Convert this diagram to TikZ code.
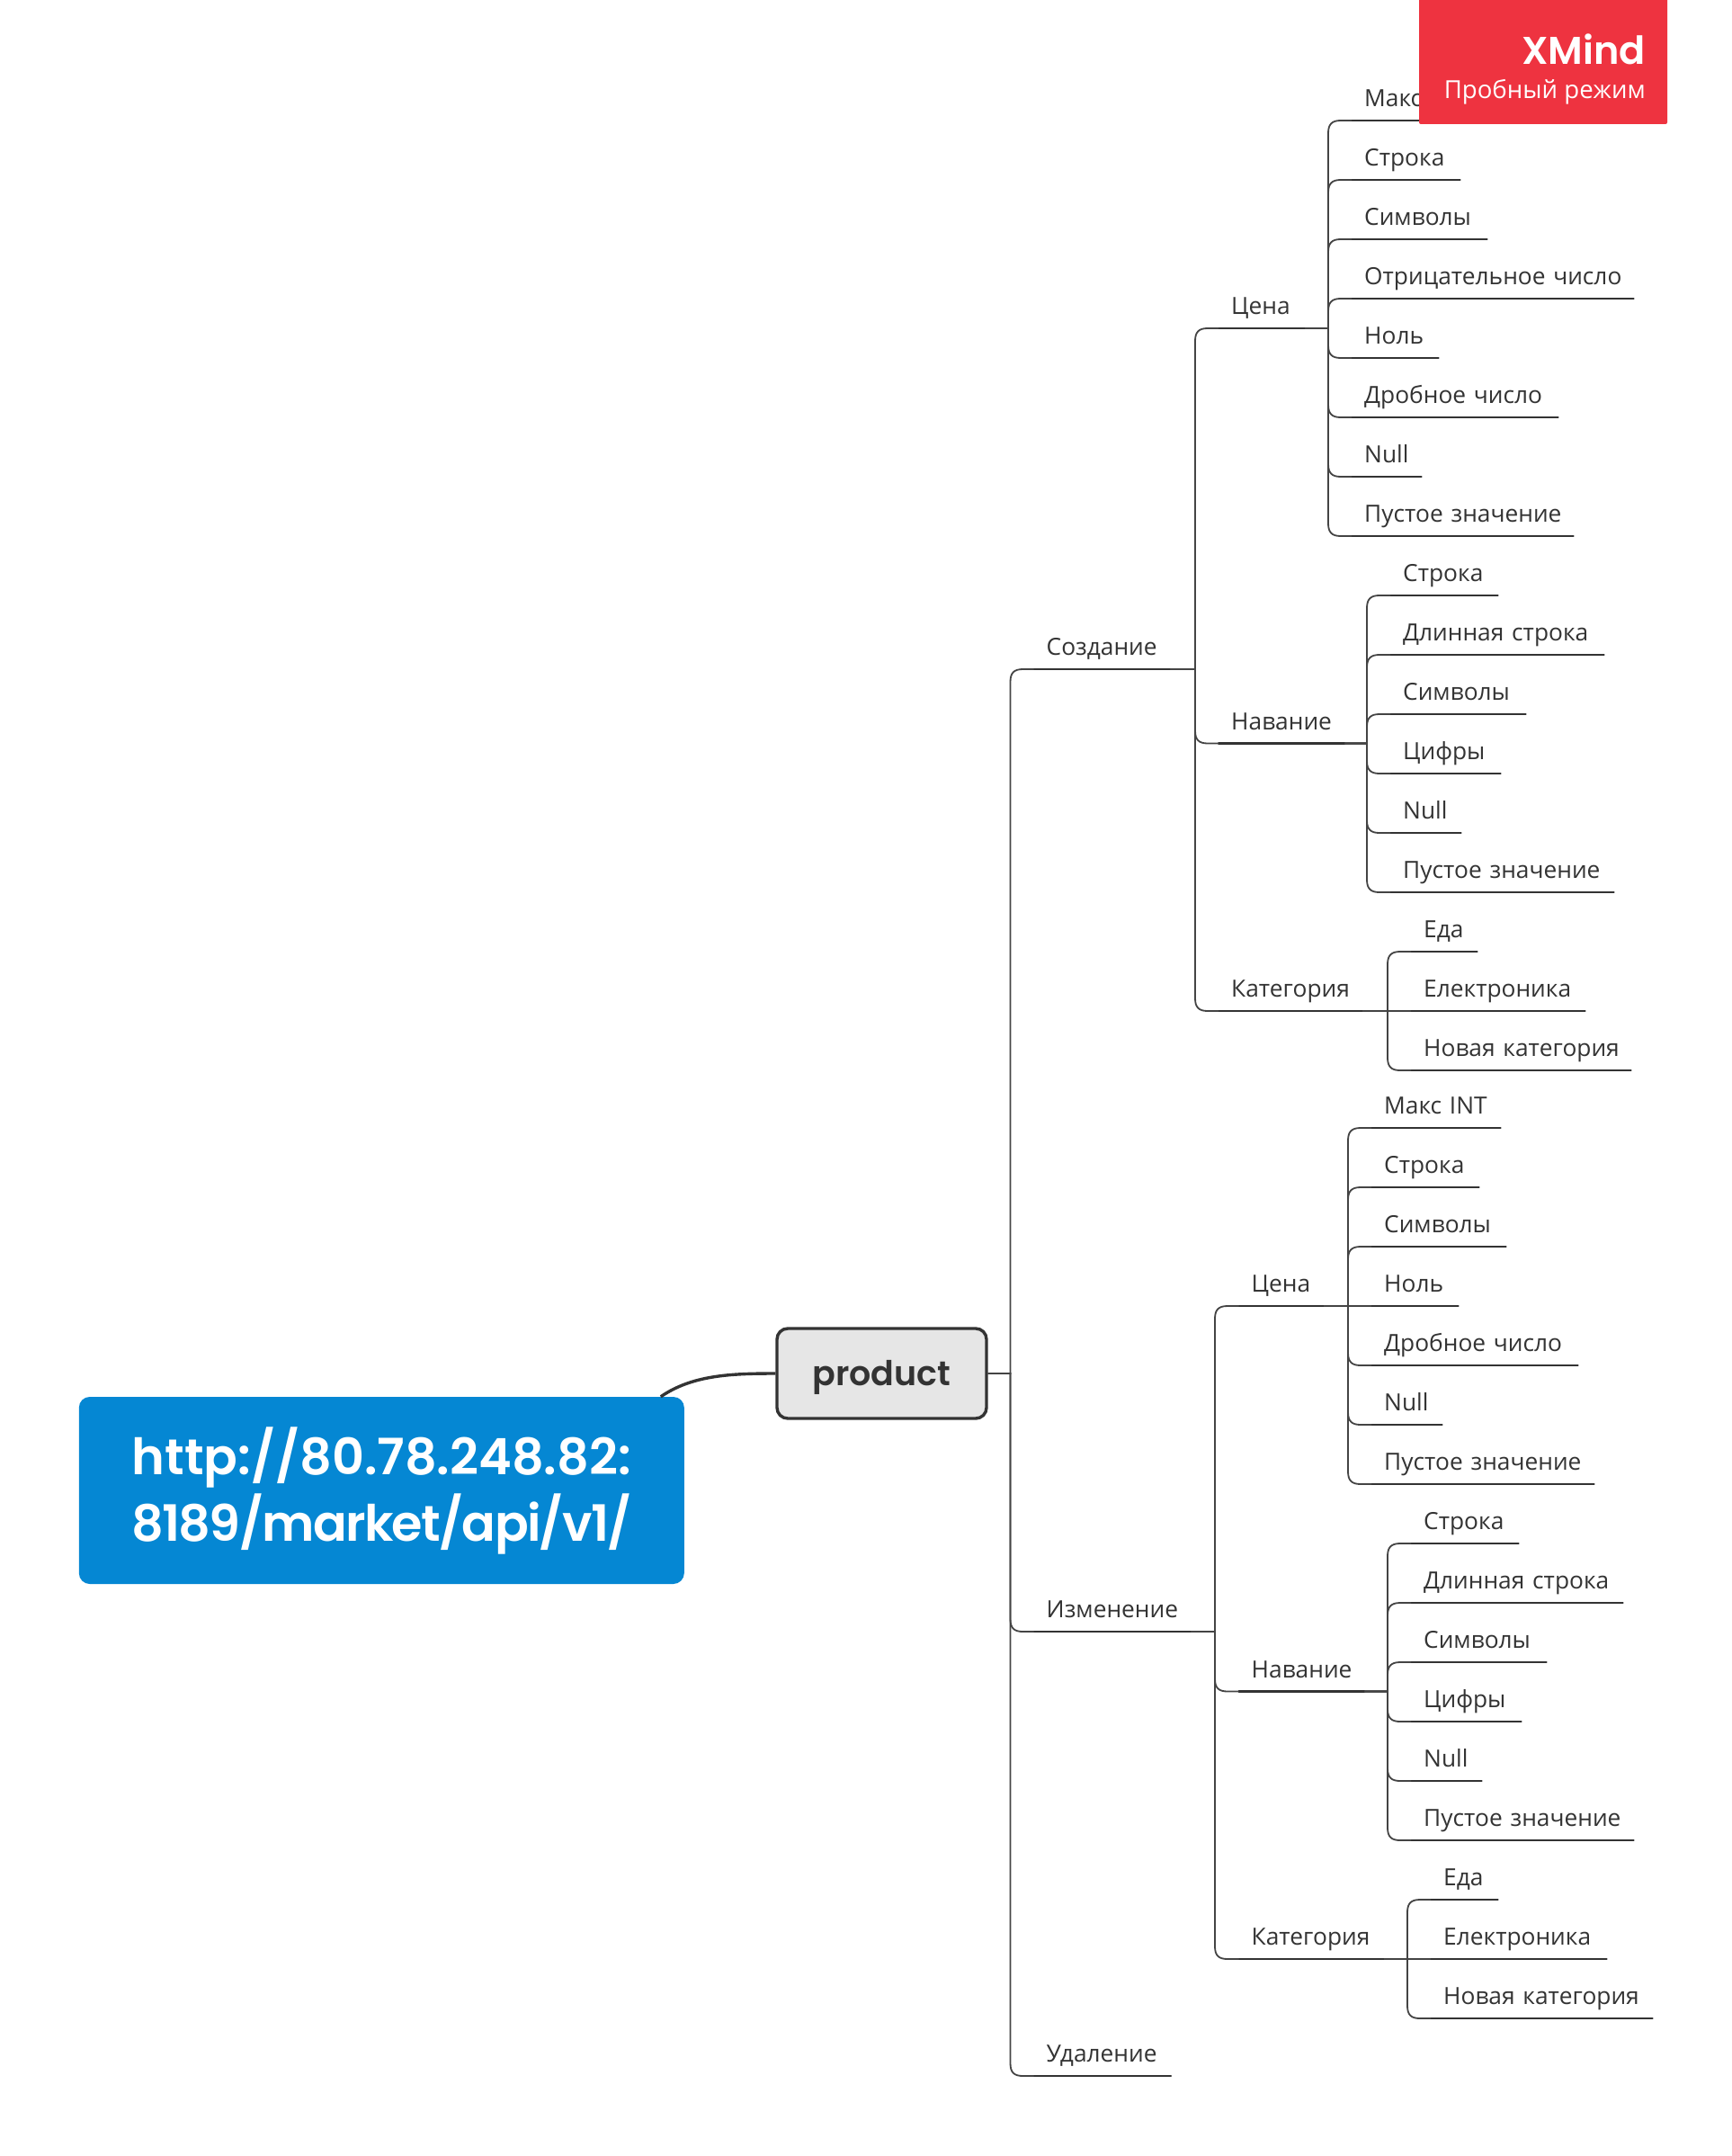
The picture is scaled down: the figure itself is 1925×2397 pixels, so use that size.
\documentclass[tikz,border=0pt]{standalone}
\usepackage{fontspec}
\setmainfont{Open Sans}
\newfontfamily\headfont[UprightFont={* SemiBold}]{Poppins}
\newfontfamily\headtight[UprightFont={* SemiBold},LetterSpace=-3.0]{Poppins}
\usetikzlibrary{calc}
\definecolor{ink}{HTML}{333333}
\definecolor{wire}{HTML}{444444}
\definecolor{bluebox}{HTML}{0587D3}
\definecolor{greybox}{HTML}{E6E6E6}
\definecolor{redbox}{HTML}{EE3340}
\tikzset{
  topic/.style={anchor=south west,inner sep=0pt,text height=24pt,text depth=15pt,align=left,text=ink,font=\fontsize{26.3}{32}\selectfont},
  uline/.style={draw=ink,line width=2.8pt,line cap=round},
  conn/.style={draw=wire,line width=1.8pt},
  rootbox/.style={fill=bluebox,inner sep=0pt,rounded corners=12pt,text=white,align=center},
  mainbox/.style={fill=greybox,draw=ink,line width=3.4pt,inner sep=0pt,rounded corners=12pt,text=ink},
}
\newcommand{\topic}[5]{%
  \pgfmathsetlengthmacro\tw{#5-#3}%
  \node[topic,text width=\tw] (#1) at (#3,#4) {\hspace*{14pt}#2};
  \draw[uline] (#1.south west) -- (#1.south east);
}
\newcommand{\linkto}[4]{%
  \draw[conn] (#1) -- (#2) -- ($(#2 |- #3.south west)+(0,#4)$)
    .. controls ($(#2 |- #3.south west)+(0,0.3*#4)$) and ($(#2 |- #3.south west)+(4,0)$)
    .. ($(#2 |- #3.south west)+(14,0)$) -- (#3.south west);
}
\begin{document}
\begin{tikzpicture}[x=1pt,y=-1pt]
\useasboundingbox (0,0) rectangle (1925,2397);
\fill[white] (0,0) rectangle (1925,2397);

% root
\node[mainbox,minimum width=233pt,minimum height=100pt,text height=36pt,text depth=10pt,font=\headfont\fontsize{38}{48}\selectfont] (prod) at (980.5,1527) {product};
\node[rootbox,minimum width=673pt,minimum height=208pt,font=\headfont\fontsize{55.7}{74}\selectfont] (main) at (424.3,1657) {http://80.78.248.82:\\{\headtight\fontsize{55.7}{74}\selectfont 8189/market/api/v1/}};
\coordinate (mainout) at ($(main.north west)!0.961!(main.north east)$);
\draw[draw=ink,line width=3.4pt] (mainout) .. controls +(35,-24) and +(-50,0) .. (prod.west);
\coordinate (j0) at (1123.5,1527);

% first level
\topic{cr}{Создание}{1149.5}{744}{1301}
\topic{ch}{Изменение}{1149.5}{1814}{1324}
\topic{de}{Удаление}{1149.5}{2308}{1301.5}
\linkto{prod.east}{j0}{cr}{14}
\linkto{prod.east}{j0}{ch}{-14}
\linkto{prod.east}{j0}{de}{-14}

% Создание
\coordinate (j1) at (1329,744);
\topic{a1}{Цена}{1355}{365}{1451}
\topic{a2}{Навание}{1355}{826.5}{1495}
\topic{a3}{Категория}{1355}{1124}{1515}
\linkto{cr.south east}{j1}{a1}{14}
\linkto{cr.south east}{j1}{a2}{-14}
\linkto{cr.south east}{j1}{a3}{-14}

% Создание / Цена
\coordinate (j2) at (1477,365);
\topic{b1}{Макс INT}{1503}{134}{1646}
\topic{b2}{Строка}{1503}{200}{1623}
\topic{b3}{Символы}{1503}{266}{1653}
\topic{b4}{Отрицательное число}{1503}{332}{1816}
\topic{b5}{Ноль}{1503}{398}{1599}
\topic{b6}{Дробное число}{1503}{464}{1732}
\topic{b7}{Null}{1503}{530}{1580}
\topic{b8}{Пустое значение}{1503}{596}{1749}
\linkto{a1.south east}{j2}{b1}{14}
\linkto{a1.south east}{j2}{b2}{14}
\linkto{a1.south east}{j2}{b3}{14}
\linkto{a1.south east}{j2}{b4}{14}
\linkto{a1.south east}{j2}{b5}{-14}
\linkto{a1.south east}{j2}{b6}{-14}
\linkto{a1.south east}{j2}{b7}{-14}
\linkto{a1.south east}{j2}{b8}{-14}

% Создание / Навание
\coordinate (j3) at (1520,826.5);
\topic{c1}{Строка}{1546}{662}{1665}
\topic{c2}{Длинная строка}{1546}{728}{1783}
\topic{c3}{Символы}{1546}{794}{1696}
\topic{c4}{Цифры}{1546}{860}{1668}
\topic{c5}{Null}{1546}{926}{1624}
\topic{c6}{Пустое значение}{1546}{992}{1794}
\linkto{a2.south east}{j3}{c1}{14}
\linkto{a2.south east}{j3}{c2}{14}
\linkto{a2.south east}{j3}{c3}{14}
\linkto{a2.south east}{j3}{c4}{-14}
\linkto{a2.south east}{j3}{c5}{-14}
\linkto{a2.south east}{j3}{c6}{-14}

% Создание / Категория
\coordinate (j4) at (1543,1124);
\topic{d1}{Еда}{1569}{1058}{1642}
\topic{d2}{Електроника}{1569}{1124}{1762}
\topic{d3}{Новая категория}{1569}{1190}{1813}
\linkto{a3.south east}{j4}{d1}{14}
\linkto{a3.south east}{j4}{d2}{0}
\linkto{a3.south east}{j4}{d3}{-14}

% Изменение
\coordinate (j5) at (1351,1814);
\topic{e1}{Цена}{1377.5}{1452}{1472}
\topic{e2}{Навание}{1377.5}{1880.5}{1517}
\topic{e3}{Категория}{1377.5}{2178}{1539}
\linkto{ch.south east}{j5}{e1}{14}
\linkto{ch.south east}{j5}{e2}{-14}
\linkto{ch.south east}{j5}{e3}{-14}

% Изменение / Цена
\coordinate (j6) at (1499,1452);
\topic{f1}{Макс INT}{1525}{1254}{1668}
\topic{f2}{Строка}{1525}{1320}{1644}
\topic{f3}{Символы}{1525}{1386}{1674}
\topic{f4}{Ноль}{1525}{1452}{1621}
\topic{f5}{Дробное число}{1525}{1518}{1754}
\topic{f6}{Null}{1525}{1584}{1603}
\topic{f7}{Пустое значение}{1525}{1650}{1772}
\linkto{e1.south east}{j6}{f1}{14}
\linkto{e1.south east}{j6}{f2}{14}
\linkto{e1.south east}{j6}{f3}{14}
\linkto{e1.south east}{j6}{f4}{0}
\linkto{e1.south east}{j6}{f5}{-14}
\linkto{e1.south east}{j6}{f6}{-14}
\linkto{e1.south east}{j6}{f7}{-14}

% Изменение / Навание
\coordinate (j7) at (1543,1880.5);
\topic{g1}{Строка}{1569}{1716}{1688}
\topic{g2}{Длинная строка}{1569}{1782}{1804}
\topic{g3}{Символы}{1569}{1848}{1719}
\topic{g4}{Цифры}{1569}{1914}{1691}
\topic{g5}{Null}{1569}{1980}{1647}
\topic{g6}{Пустое значение}{1569}{2046}{1816}
\linkto{e2.south east}{j7}{g1}{14}
\linkto{e2.south east}{j7}{g2}{14}
\linkto{e2.south east}{j7}{g3}{14}
\linkto{e2.south east}{j7}{g4}{-14}
\linkto{e2.south east}{j7}{g5}{-14}
\linkto{e2.south east}{j7}{g6}{-14}

% Изменение / Категория
\coordinate (j8) at (1565,2178);
\topic{h1}{Еда}{1591}{2112}{1665}
\topic{h2}{Електроника}{1591}{2178}{1786}
\topic{h3}{Новая категория}{1591}{2244}{1837}
\linkto{e3.south east}{j8}{h1}{14}
\linkto{e3.south east}{j8}{h2}{0}
\linkto{e3.south east}{j8}{h3}{-14}

% trial badge
\fill[redbox,rounded corners=2pt] (1578,-4) rectangle (1854,138);
\node[anchor=base east,inner sep=0pt,text=white,font=\headfont\fontsize{43}{50}\selectfont] (badgeA) at (1830,72) {XMind};
\node[anchor=base east,inner sep=0pt,text=white,font=\fontsize{27.6}{34}\selectfont] (badgeB) at (1830,110) {Пробный режим};
\end{tikzpicture}
\end{document}
